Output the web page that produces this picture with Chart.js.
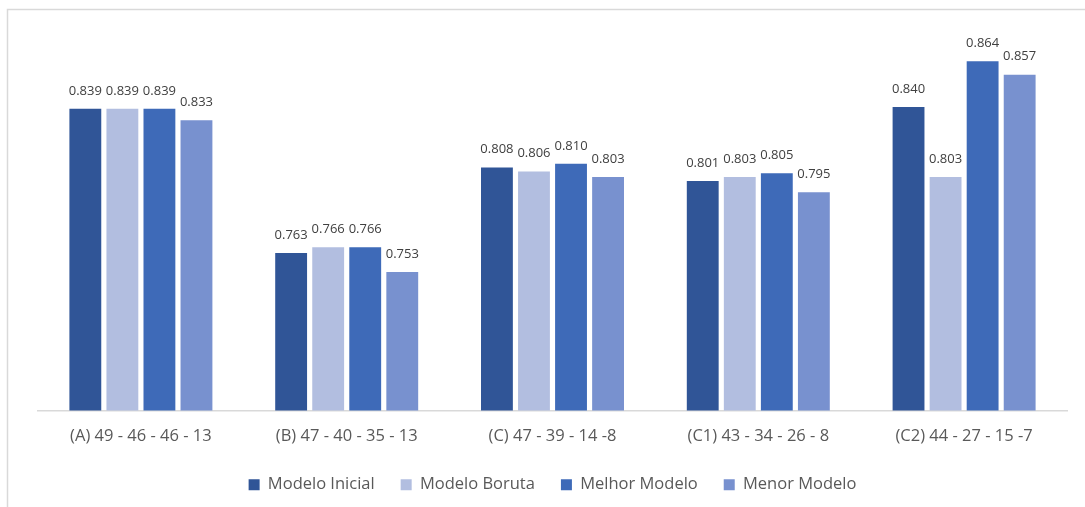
<!DOCTYPE html>
<html>
<head>
<meta charset="utf-8">
<script src="https://cdn.jsdelivr.net/npm/chart.js@4/dist/chart.umd.min.js"></script>
<style>
  body { margin: 0; background: #fff; }
  #wrap { width: 1085px; height: 507px; position: relative; }
</style>
</head>
<body>
<div id="wrap"><canvas id="canvas"></canvas></div>
<script>
var categories = ['(A) 49 - 46 - 46 - 13', '(B) 47 - 40 - 35 - 13', '(C) 47 - 39 - 14 -8', '(C1) 43 - 34 - 26 - 8', '(C2) 44 - 27 - 15 -7'];
var inicial = [0.839, 0.763, 0.808, 0.801, 0.840];
var boruta = [0.839, 0.766, 0.806, 0.803, 0.803];
var melhor = [0.839, 0.766, 0.810, 0.805, 0.864];
var menor = [0.833, 0.753, 0.803, 0.795, 0.857];

// frame lines on the left and top of the chart box
var frame = {
    id: 'frame',
    beforeDraw: function(chart){
        var c = chart.ctx;
        c.save();
        c.strokeStyle = '#d9d9d9';
        c.lineWidth = 1.5;
        c.beginPath();
        c.moveTo(7.5, 507);
        c.lineTo(7.5, 9.5);
        c.lineTo(1085, 9.5);
        c.stroke();
        c.restore();
    }
};

// value printed above each bar
var valueLabels = {
    id: 'valueLabels',
    afterDatasetsDraw: function(chart){
        var c = chart.ctx;
        c.save();
        c.font = '13px "Open Sans"';
        c.fillStyle = '#404040';
        c.textAlign = 'center';
        c.textBaseline = 'middle';
        chart.data.datasets.forEach(function(ds, i){
            chart.getDatasetMeta(i).data.forEach(function(bar, j){
                c.fillText(ds.data[j].toFixed(3), bar.x, bar.y - 18);
            });
        });
        c.restore();
    }
};

var ctx = document.getElementById('canvas').getContext('2d');
var myChart = new Chart(ctx, {
    type: 'bar',
    data: {
        labels: categories,
        datasets: [
            { label: 'Modelo Inicial', data: inicial, backgroundColor: '#305597' },
            { label: 'Modelo Boruta', data: boruta, backgroundColor: '#b2bee0' },
            { label: 'Melhor Modelo', data: melhor, backgroundColor: '#3e6ab8' },
            { label: 'Menor Modelo', data: menor, backgroundColor: '#7891cf' }
        ]
    },
    options: {
        responsive: true,
        maintainAspectRatio: false,
        animation: false,
        categoryPercentage: 0.72,
        barPercentage: 0.86,
        layout: { padding: { left: 38, right: 18, top: 31, bottom: 4 } },
        plugins: {
            tooltip: { enabled: false },
            legend: {
                position: 'bottom',
                labels: {
                    boxWidth: 11,
                    boxHeight: 11,
                    padding: 26,
                    color: '#595959',
                    font: { family: 'Open Sans', size: 16.5 }
                }
            }
        },
        scales: {
            x: {
                grid: { display: false, drawTicks: false },
                border: { color: '#d9d9d9', width: 1.5 },
                ticks: {
                    color: '#595959',
                    padding: 16,
                    font: { family: 'Open Sans', size: 16.5 }
                },
                afterFit: function(scale){
                    scale.height = 40;
                }
            },
            y: {
                display: false,
                min: 0.68,
                max: 0.88
            }
        }
    },
    plugins: [frame, valueLabels]
});
</script>
</body>
</html>
